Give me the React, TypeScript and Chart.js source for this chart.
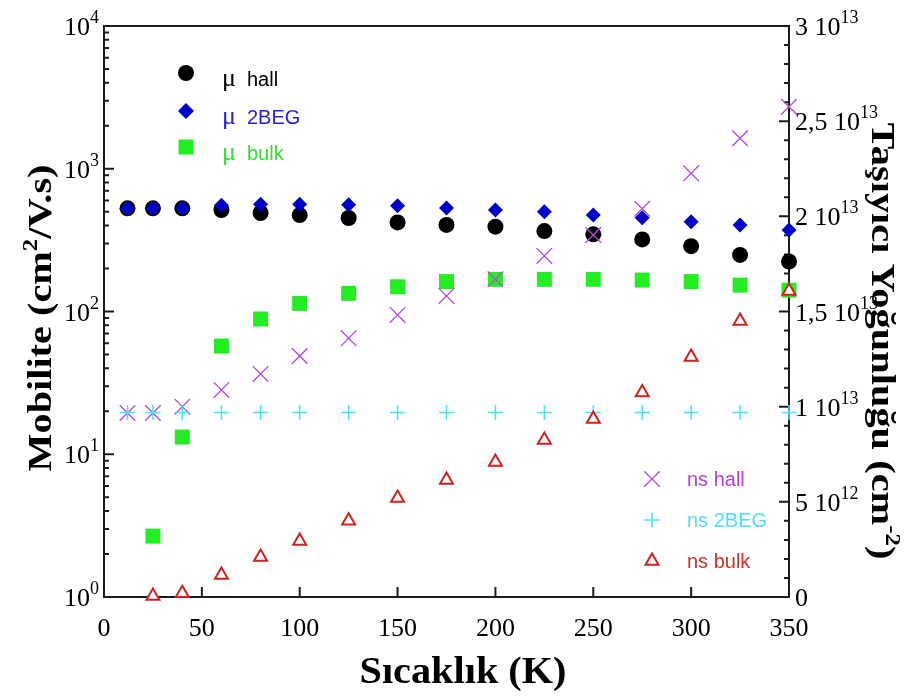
import React, { useEffect, useRef } from "react";
import { Chart, registerables } from "chart.js";

Chart.register(...registerables);

// ---------------- data ----------------
const temps = [12, 25, 40, 60, 80, 100, 125, 150, 175, 200, 225, 250, 275, 300, 325, 350];
const tempsBulk = [25, 40, 60, 80, 100, 125, 150, 175, 200, 225, 250, 275, 300, 325, 350];

const muHall = [528, 528, 528, 514, 490, 474, 452, 421, 404, 393, 366, 347, 320, 287, 249, 224];
const mu2BEG = [528, 528, 528, 555, 565, 565, 560, 550, 530, 514, 500, 474, 454, 426, 404, 372];
const muBulk = [2.67, 13.2, 57.3, 88.6, 114, 134, 149, 162, 168, 168, 168, 166, 162, 153, 141];

const nsHall = [0.967e13, 0.967e13, 1.0e13, 1.088e13, 1.172e13, 1.266e13, 1.359e13, 1.482e13, 1.582e13, 1.669e13, 1.792e13, 1.902e13, 2.04e13, 2.226e13, 2.41e13, 2.576e13];
const ns2BEG = [0.97e13, 0.97e13, 0.97e13, 0.97e13, 0.97e13, 0.97e13, 0.97e13, 0.97e13, 0.97e13, 0.97e13, 0.97e13, 0.97e13, 0.97e13, 0.97e13, 0.97e13, 0.97e13];
const nsBulk = [0.005e13, 0.02e13, 0.116e13, 0.21e13, 0.294e13, 0.4e13, 0.52e13, 0.615e13, 0.709e13, 0.825e13, 0.935e13, 1.075e13, 1.261e13, 1.45e13, 1.608e13];

// ---------------- ticks & labels ----------------
const xTickValues = [0, 50, 100, 150, 200, 250, 300, 350];
const xTickLabels = ["0", "50", "100", "150", "200", "250", "300", "350"];
const leftTickValues = [1, 10, 100, 1000, 10000];
const leftTickExps = ["0", "1", "2", "3", "4"];
const rightTickValues = [0, 5e12, 1e13, 1.5e13, 2e13, 2.5e13, 3e13];
const rightTickMantissas = ["0", "5", "1", "1,5", "2", "2,5", "3"];
const rightTickExps = ["", "12", "13", "13", "13", "13", "13"];

const xTitle = "Sıcaklık (K)";
const leftTitleParts = ["Mobilite (cm", "2", "/V.s)"];
const rightTitleParts = ["Taşıyıcı Yoğunluğu (cm", "-2", ")"];

const muLegendLabels = ["hall", "2BEG", "bulk"];
const nsLegendLabels = ["ns hall", "ns 2BEG", "ns bulk"];

// ---------------- styles ----------------
const AXIS = "#1c1c1c";
const C_MU_HALL = "#000000";
const C_MU_2BEG = "#0000cc";
const C_MU_BULK = "#22ee22";
const C_NS_HALL = "#b04ae0";
const C_NS_2BEG = "#44e4ff";
const C_NS_BULK = "#d42020";

const SERIF = '"Liberation Serif", "Times New Roman", serif';
const SANS = '"Liberation Sans", Arial, sans-serif';

function drawMarker(ctx: CanvasRenderingContext2D, kind: string, x: number, y: number, color: string) {
  ctx.save();
  ctx.fillStyle = color;
  ctx.strokeStyle = color;
  ctx.beginPath();
  if (kind === "circle") {
    ctx.arc(x, y, 8, 0, Math.PI * 2);
    ctx.fill();
  } else if (kind === "diamond") {
    const r = 8;
    ctx.moveTo(x - r, y);
    ctx.lineTo(x, y - r);
    ctx.lineTo(x + r, y);
    ctx.lineTo(x, y + r);
    ctx.closePath();
    ctx.fill();
  } else if (kind === "square") {
    ctx.rect(x - 7.5, y - 7.5, 15, 15);
    ctx.fill();
  } else if (kind === "x") {
    const h = 7.8;
    ctx.lineWidth = 1.3;
    ctx.moveTo(x - h, y - h);
    ctx.lineTo(x + h, y + h);
    ctx.moveTo(x + h, y - h);
    ctx.lineTo(x - h, y + h);
    ctx.stroke();
  } else if (kind === "plus") {
    const h = 7.5;
    ctx.lineWidth = 1.5;
    ctx.moveTo(x - h, y);
    ctx.lineTo(x + h, y);
    ctx.moveTo(x, y - h);
    ctx.lineTo(x, y + h);
    ctx.stroke();
  } else if (kind === "triangle") {
    const r = 7.5;
    ctx.lineWidth = 2;
    ctx.fillStyle = "#ffffff";
    ctx.moveTo(x, y - r);
    ctx.lineTo(x + 0.866 * r, y + 0.5 * r);
    ctx.lineTo(x - 0.866 * r, y + 0.5 * r);
    ctx.closePath();
    ctx.fill();
    ctx.stroke();
  }
  ctx.restore();
}

type Seg = { text: string; font: string; dy: number };

function drawRich(
  ctx: CanvasRenderingContext2D,
  segs: Seg[],
  cx: number,
  cy: number,
  angle: number,
  targetLen: number
) {
  ctx.save();
  ctx.translate(cx, cy);
  ctx.rotate(angle);
  const widths = segs.map((s) => {
    ctx.font = s.font;
    return ctx.measureText(s.text).width;
  });
  const total = widths.reduce((a, b) => a + b, 0);
  const sx = targetLen > 0 ? targetLen / total : 1;
  ctx.scale(sx, 1);
  ctx.textBaseline = "alphabetic";
  ctx.textAlign = "left";
  ctx.fillStyle = "#000";
  let xx = -total / 2;
  segs.forEach((s, i) => {
    ctx.font = s.font;
    ctx.fillText(s.text, xx, s.dy);
    xx += widths[i];
  });
  ctx.restore();
}

const decorPlugin = {
  id: "decor",
  beforeDatasetsDraw(chart: any) {
    const { ctx, chartArea, scales } = chart;
    const { left, right, top, bottom } = chartArea;
    const xs = scales.x;
    const ys = scales.y;
    const y2 = scales.y2;
    ctx.save();
    ctx.strokeStyle = AXIS;
    ctx.lineWidth = 2;
    ctx.strokeRect(left, top, right - left, bottom - top);
    ctx.beginPath();
    xTickValues.forEach((v) => {
      const px = xs.getPixelForValue(v);
      ctx.moveTo(px, bottom);
      ctx.lineTo(px, bottom - 10);
    });
    leftTickValues.forEach((v, i) => {
      const py = ys.getPixelForValue(v);
      ctx.moveTo(left, py);
      ctx.lineTo(left + 10, py);
      if (i < leftTickValues.length - 1) {
        for (let m = 2; m <= 9; m++) {
          const pm = ys.getPixelForValue(v * m);
          ctx.moveTo(left, pm);
          ctx.lineTo(left + 5, pm);
        }
      }
    });
    rightTickValues.forEach((v, i) => {
      const py = y2.getPixelForValue(v);
      ctx.moveTo(right, py);
      ctx.lineTo(right - 10, py);
      if (i < rightTickValues.length - 1) {
        for (let m = 1; m <= 4; m++) {
          const pm = y2.getPixelForValue(v + m * 1e12);
          ctx.moveTo(right, pm);
          ctx.lineTo(right - 5, pm);
        }
      }
    });
    ctx.stroke();
    ctx.restore();
  },
  afterDatasetsDraw(chart: any) {
    const { ctx, chartArea, scales } = chart;
    const { left, right, bottom } = chartArea;
    const xs = scales.x;
    const ys = scales.y;
    const y2 = scales.y2;
    const mainFont = `26px ${SERIF}`;
    const supFont = `18px ${SERIF}`;
    ctx.save();
    ctx.fillStyle = "#000";
    ctx.textBaseline = "alphabetic";

    // x tick labels
    ctx.font = mainFont;
    ctx.textAlign = "center";
    xTickValues.forEach((v, i) => {
      ctx.fillText(xTickLabels[i], xs.getPixelForValue(v), bottom + 39);
    });

    // left tick labels (10^n)
    ctx.textAlign = "left";
    leftTickValues.forEach((v, i) => {
      const py = ys.getPixelForValue(v);
      ctx.font = supFont;
      const sw = ctx.measureText(leftTickExps[i]).width;
      ctx.font = mainFont;
      const bw = ctx.measureText("10").width;
      const xEnd = left - 5;
      ctx.fillText("10", xEnd - sw - bw, py + 9);
      ctx.font = supFont;
      ctx.fillText(leftTickExps[i], xEnd - sw, py - 3);
    });

    // right tick labels
    rightTickValues.forEach((v, i) => {
      const py = y2.getPixelForValue(v);
      let xx = right + 6;
      ctx.font = mainFont;
      if (rightTickExps[i] === "") {
        ctx.fillText(rightTickMantissas[i], xx, py + 9);
        return;
      }
      const t = rightTickMantissas[i] + " 10";
      ctx.fillText(t, xx, py + 9);
      xx += ctx.measureText(t).width;
      ctx.font = supFont;
      ctx.fillText(rightTickExps[i], xx, py - 3);
    });

    // legends
    const muKinds = ["circle", "diamond", "square"];
    const muColors = [C_MU_HALL, C_MU_2BEG, C_MU_BULK];
    const muTextColors = ["#000000", "#2a1fd6", "#33dd33"];
    const muRows = [73, 111, 147];
    muRows.forEach((ry, i) => {
      drawMarker(ctx, muKinds[i], 186, ry, muColors[i]);
      ctx.fillStyle = muTextColors[i];
      ctx.textAlign = "left";
      ctx.font = `26px ${SERIF}`;
      ctx.fillText("μ", 222, ry + 13);
      ctx.font = `20px ${SANS}`;
      ctx.fillText(muLegendLabels[i], 247, ry + 13);
    });

    const nsKinds = ["x", "plus", "triangle"];
    const nsColors = [C_NS_HALL, C_NS_2BEG, C_NS_BULK];
    const nsTextColors = ["#b040e0", "#50dcff", "#d03030"];
    const nsRows = [479, 520, 561];
    nsRows.forEach((ry, i) => {
      drawMarker(ctx, nsKinds[i], 652, ry, nsColors[i]);
      ctx.fillStyle = nsTextColors[i];
      ctx.textAlign = "left";
      ctx.font = `20px ${SANS}`;
      ctx.fillText(nsLegendLabels[i], 687, ry + 7);
    });

    // titles
    const tFont = `bold 34px ${SERIF}`;
    const tSup = `bold 21px ${SERIF}`;
    drawRich(ctx, [{ text: xTitle, font: `bold 38px ${SERIF}`, dy: 0 }], 463, 683, 0, 207);
    drawRich(
      ctx,
      [
        { text: leftTitleParts[0], font: tFont, dy: 0 },
        { text: leftTitleParts[1], font: tSup, dy: -14 },
        { text: leftTitleParts[2], font: tFont, dy: 0 },
      ],
      51,
      318,
      -Math.PI / 2,
      307
    );
    drawRich(
      ctx,
      [
        { text: rightTitleParts[0], font: tFont, dy: 0 },
        { text: rightTitleParts[1], font: tSup, dy: -14 },
        { text: rightTitleParts[2], font: tFont, dy: 0 },
      ],
      872,
      341,
      Math.PI / 2,
      437
    );
    ctx.restore();
  },
};

function pts(xs: number[], ys: number[]) {
  return xs.map((x, i) => ({ x, y: ys[i] }));
}

export default function App() {
  const ref = useRef<HTMLCanvasElement>(null);
  useEffect(() => {
    if (!ref.current) return;
    const chart = new Chart(ref.current, {
      type: "scatter",
      data: {
        datasets: [
          {
            label: "μ hall",
            data: pts(temps, muHall),
            yAxisID: "y",
            pointStyle: "circle",
            pointRadius: 8,
            backgroundColor: C_MU_HALL,
            borderColor: C_MU_HALL,
            borderWidth: 0,
            order: 6,
            clip: false,
          },
          {
            label: "μ 2BEG",
            data: pts(temps, mu2BEG),
            yAxisID: "y",
            pointStyle: "rectRot",
            pointRadius: 7.5,
            backgroundColor: C_MU_2BEG,
            borderColor: C_MU_2BEG,
            borderWidth: 0,
            order: 5,
            clip: false,
          },
          {
            label: "μ bulk",
            data: pts(tempsBulk, muBulk),
            yAxisID: "y",
            pointStyle: "rect",
            pointRadius: 10.6,
            backgroundColor: C_MU_BULK,
            borderColor: C_MU_BULK,
            borderWidth: 0,
            order: 4,
            clip: false,
          },
          {
            label: "ns hall",
            data: pts(temps, nsHall),
            yAxisID: "y2",
            pointStyle: "crossRot",
            pointRadius: 11,
            backgroundColor: C_NS_HALL,
            borderColor: C_NS_HALL,
            borderWidth: 1.3,
            order: 3,
            clip: false,
          },
          {
            label: "ns 2BEG",
            data: pts(temps, ns2BEG),
            yAxisID: "y2",
            pointStyle: "cross",
            pointRadius: 7.5,
            backgroundColor: C_NS_2BEG,
            borderColor: C_NS_2BEG,
            borderWidth: 1.5,
            order: 2,
            clip: false,
          },
          {
            label: "ns bulk",
            data: pts(tempsBulk, nsBulk),
            yAxisID: "y2",
            pointStyle: "triangle",
            pointRadius: 7.5,
            backgroundColor: "#ffffff",
            borderColor: C_NS_BULK,
            borderWidth: 2,
            order: 1,
            clip: false,
          },
        ],
      },
      options: {
        animation: false,
        responsive: false,
        events: [],
        layout: { padding: { left: 104, right: 128, top: 26, bottom: 101 } },
        plugins: { legend: { display: false }, tooltip: { enabled: false } },
        scales: {
          x: { type: "linear", min: 0, max: 350, display: false },
          y: { type: "logarithmic", min: 1, max: 10000, display: false, position: "left" },
          y2: { type: "linear", min: 0, max: 3e13, display: false, position: "right" },
        },
      },
      plugins: [decorPlugin],
    } as any);
    return () => chart.destroy();
  }, []);
  return (
    <div style={{ position: "absolute", left: 0, top: 0, width: 917, height: 698, background: "#fff" }}>
      <canvas ref={ref} width={917} height={698} style={{ display: "block", width: 917, height: 698 }} />
    </div>
  );
}
